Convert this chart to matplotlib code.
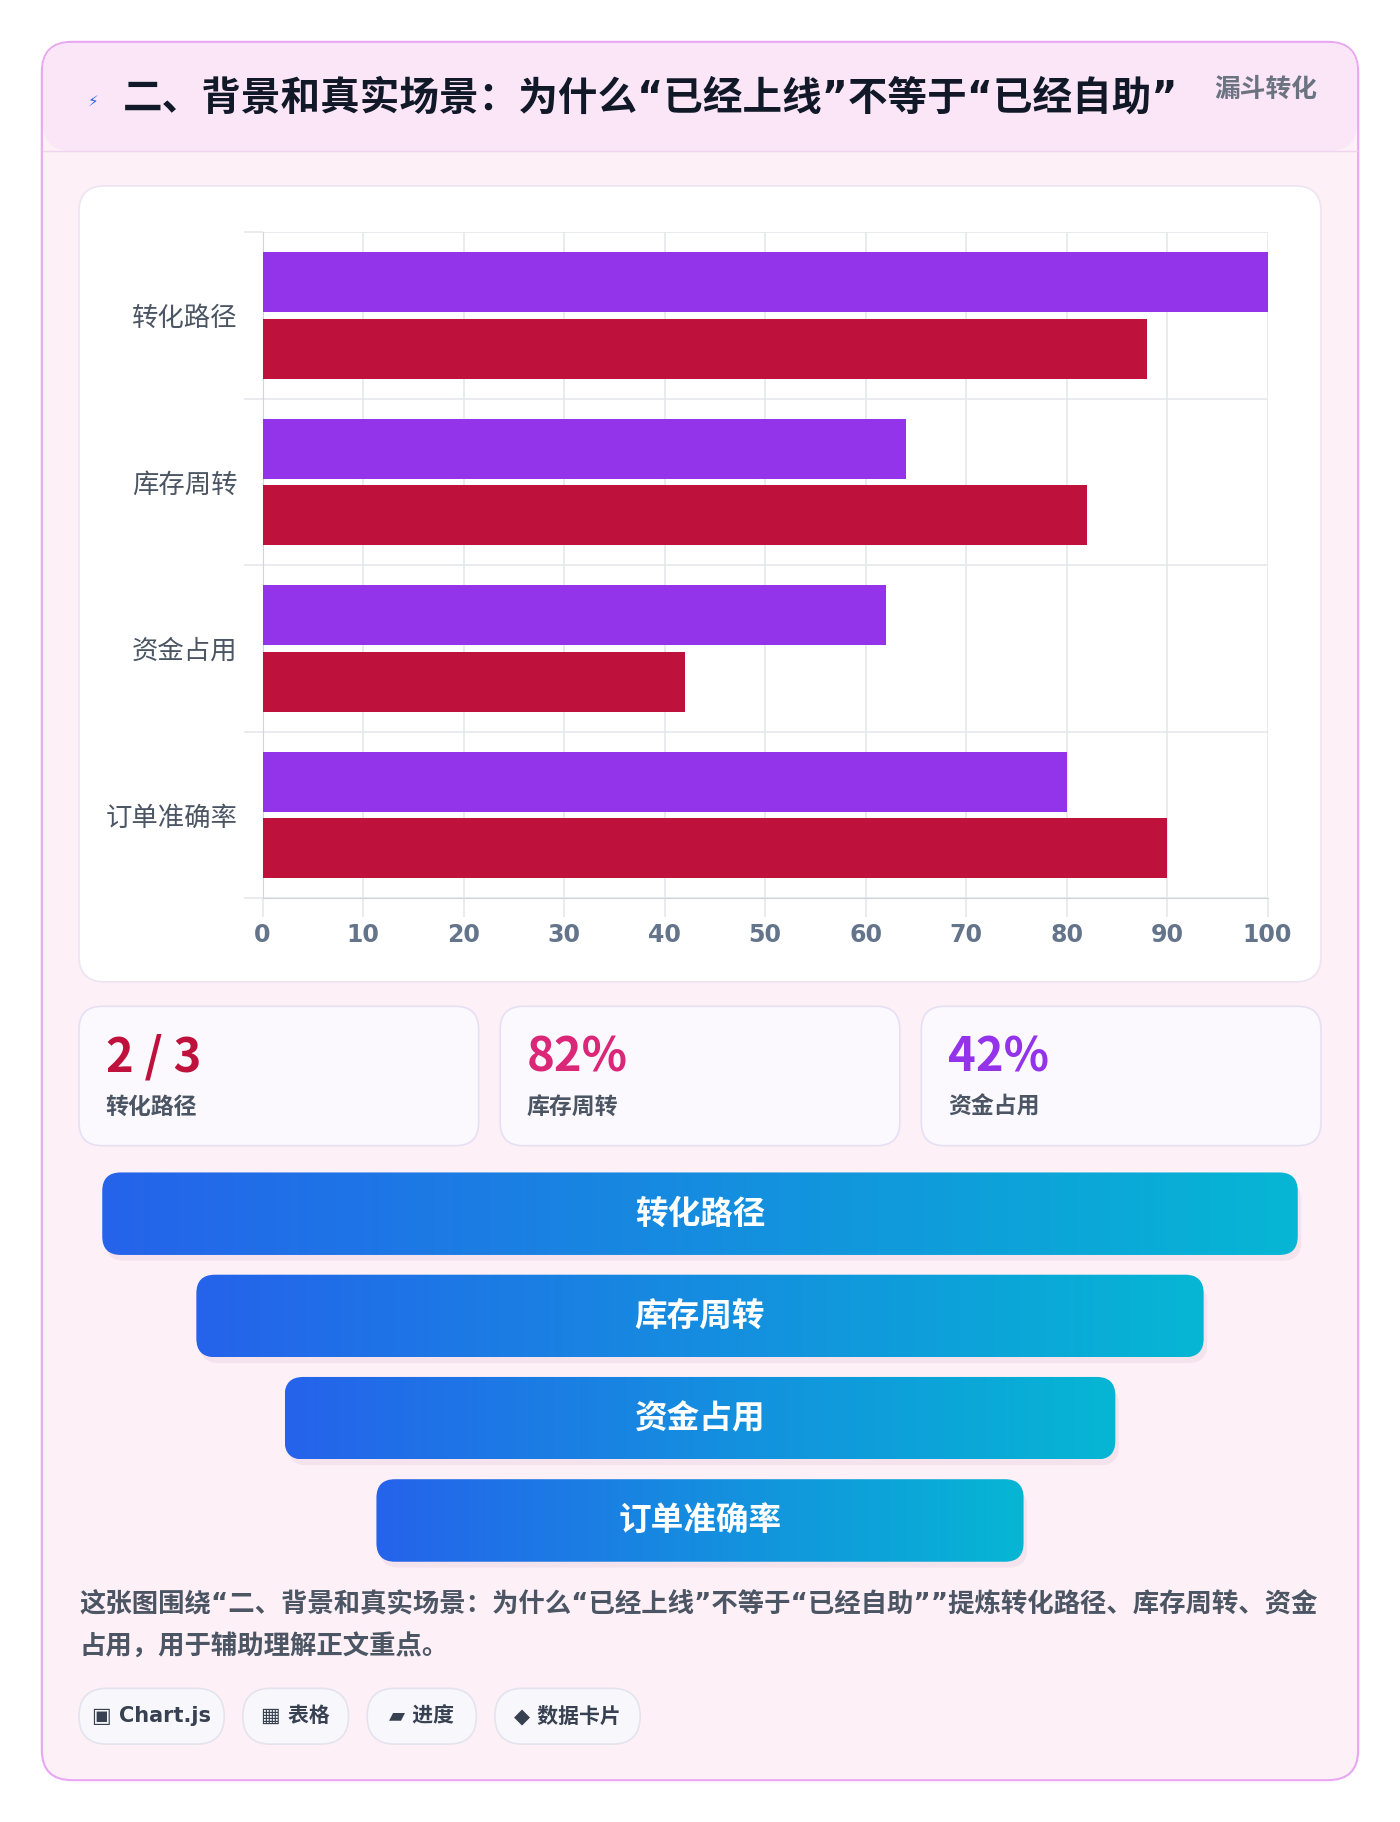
import matplotlib.pyplot as plt
import numpy as np
from matplotlib.patches import FancyBboxPatch
from matplotlib.colors import LinearSegmentedColormap

plt.rcParams['font.family'] = ['Noto Sans CJK SC', 'DejaVu Sans']

categories = ['转化路径', '库存周转', '资金占用', '订单准确率']
series_a = [100, 64, 62, 80]
series_b = [88, 82, 42, 90]
stat_values = ['2 / 3', '82%', '42%']
stat_labels = ['转化路径', '库存周转', '资金占用']
stat_colors = ['#be123c', '#db2777', '#9333ea']
chips = ['▣ Chart.js', '▦ 表格', '▰ 进度', '◆ 数据卡片']
title = '二、背景和真实场景：为什么“已经上线”不等于“已经自助”'
mixed = ['DejaVu Sans', 'Noto Sans CJK SC']

W, H = 1205, 1568
fig = plt.figure(figsize=(14, 18.22), dpi=100)
bg = fig.add_axes([0, 0, 1, 1])
bg.set_xlim(0, W)
bg.set_ylim(H, 0)
bg.axis('off')


def rbox(x0, y0, x1, y1, r, fc, ec='none', lw=1, z=1):
    p = FancyBboxPatch((x0, y0), x1 - x0, y1 - y0, boxstyle=f'round,pad=0,rounding_size={r}',
                       fc=fc, ec=ec, lw=lw, zorder=z)
    bg.add_patch(p)
    return p


# outer card
rbox(36, 36, 1169, 1532, 26, '#fdf0f6', '#e8a6f3', 1.5)
rbox(37, 37, 1168, 130, 24, '#fae6f6', z=1.5)
bg.plot([37, 1168], [130, 130], color='#f0d4ee', lw=1, zorder=2)
bg.text(80, 87, '⚡', color='#2563eb', fontsize=11, ha='center', va='center', family=['DejaVu Sans'])
bg.text(106, 85, title, fontsize=28.5, fontweight='bold', color='#111827', va='center', family=mixed)
bg.text(1134, 77, '漏斗转化', fontsize=18.5, fontweight='bold', color='#6b7280', va='center', ha='right')

# chart panel
rbox(68, 160, 1137, 845, 22, 'white', '#ede4f2', 1.2)

# stat cards
for i, (v, lab, c) in enumerate(zip(stat_values, stat_labels, stat_colors)):
    x0 = 68 + i * 362.5
    rbox(x0, 866, x0 + 344, 986, 20, '#fbf9fd', '#e6e0f5', 1.2)
    bg.text(x0 + 23, 910, v, fontsize=34, fontweight='bold', color=c, va='center')
    bg.text(x0 + 23, 953, lab, fontsize=16.5, fontweight='bold', color='#4b5563', va='center')

# funnel
cmap = LinearSegmentedColormap.from_list('g', ['#2563eb', '#06b6d4'])
grad = np.linspace(0, 1, 256).reshape(1, -1)
funnel_x = [(88, 1117), (169, 1036), (245, 960), (324, 881)]
for i, name in enumerate(categories):
    x0, x1 = funnel_x[i]
    y0 = 1009 + i * 88
    rbox(x0 + 3, y0 + 8, x1 + 3, y0 + 76, 16, '#e6c9dc', z=1.2).set_alpha(0.35)
    p = rbox(x0, y0, x1, y0 + 71, 16, 'none', z=2)
    im = bg.imshow(grad, cmap=cmap, extent=(x0, x1, y0 + 71, y0), aspect='auto', zorder=2)
    im.set_clip_path(p)
    bg.text((x0 + x1) / 2, y0 + 36, name, fontsize=23.5, fontweight='bold', color='white',
            ha='center', va='center', zorder=3)
bg.set_xlim(0, W)
bg.set_ylim(H, 0)

bg.text(68, 1382, '这张图围绕“二、背景和真实场景：为什么“已经上线”不等于“已经自助””提炼转化路径、库存周转、资金',
        fontsize=19, fontweight='bold', color='#4b5563', va='center', family=mixed)
bg.text(68, 1418, '占用，用于辅助理解正文重点。', fontsize=19, fontweight='bold', color='#4b5563',
        va='center', family=mixed)

chip_x = [(68, 193), (209, 300), (316, 410), (426, 551)]
for (x0, x1), t in zip(chip_x, chips):
    rbox(x0, 1453, x1, 1501, 24, '#f8f7fb', '#e5e3ee', 1.2)
    bg.text((x0 + x1) / 2, 1477, t, fontsize=15, fontweight='bold', color='#374151',
            ha='center', va='center', family=mixed)

# bar chart
ax = fig.add_axes([226 / W, 1 - 773 / H, (1091 - 226) / W, (773 - 200) / H])
y = np.arange(len(categories))
h = 0.36
ax.barh(y - h / 2 - 0.02, series_a, height=h, color='#9333ea', zorder=3)
ax.barh(y + h / 2 + 0.02, series_b, height=h, color='#be123c', zorder=3)
ax.set_ylim(len(categories) - 0.5, -0.5)
ax.set_xlim(0, 100)
ax.set_xticks(range(0, 101, 10))
ax.set_yticks(y)
ax.set_yticklabels(categories, fontsize=19, color='#4b5563')
ax.set_yticks(np.arange(-0.5, len(categories), 1), minor=True)
ax.grid(axis='x', color='#e5e7eb', lw=1.2, zorder=0)
ax.grid(axis='y', which='minor', color='#e5e7eb', lw=1.2, zorder=0)
ax.tick_params(axis='y', which='major', length=0, pad=18)
ax.tick_params(axis='y', which='minor', length=14, color='#e5e7eb', width=1.2)
ax.tick_params(axis='x', length=14, color='#e5e7eb', width=1.2, labelsize=17, labelcolor='#64748b')
for lab in ax.get_xticklabels():
    lab.set_fontweight('bold')
    lab.set_family(['DejaVu Sans'])
for s in ['top', 'right']:
    ax.spines[s].set_visible(False)
for s in ['left', 'bottom']:
    ax.spines[s].set_color('#d1d5db')
ax.set_facecolor('none')

fig.savefig('out.png', facecolor='white')
